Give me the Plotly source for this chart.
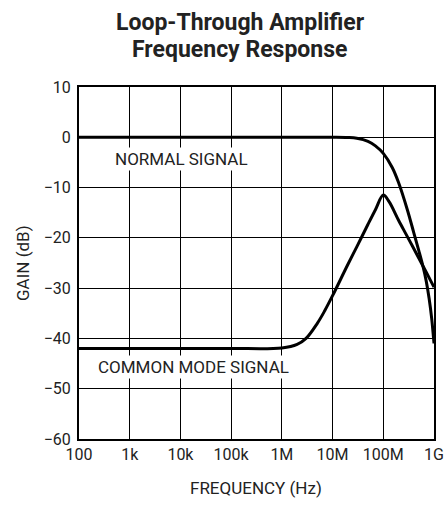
import plotly.graph_objects as go

# Data
normal_freq = [100, 1e3, 1e4, 1e5, 1e6, 1e7, 2e7, 3e7, 5e7, 7e7, 1e8, 1.5e8, 2e8,
               3e8, 4e8, 5e8, 6e8, 7e8, 8e8, 9e8, 1e9]
normal_gain = [0, 0, 0, 0, 0, 0, -0.05, -0.2, -0.8, -1.7, -3.2, -6, -9,
               -14.5, -19, -22.5, -25.5, -28.5, -32, -36, -41]

cm_freq = [100, 1e3, 1e4, 1e5, 1e6, 2e6, 3e6, 5e6, 7e6, 1e7, 2e7, 3e7, 5e7, 7e7,
           1e8, 1.3e8, 2e8, 3e8, 5e8, 7e8, 1e9]
cm_gain = [-42, -42, -42, -42, -41.9, -41.2, -40, -37, -34.5, -31.5, -25.3, -21.8,
           -17.3, -14.4, -11.5, -12.8, -16.5, -19.8, -24, -26.8, -29.8]

x_tickvals = [1e2, 1e3, 1e4, 1e5, 1e6, 1e7, 1e8, 1e9]
x_ticktext = ["100", "1k", "10k", "100k", "1M", "10M", "100M", "1G"]
y_tickvals = [10, 0, -10, -20, -30, -40, -50, -60]
y_ticktext = ["10", "0", "\u221210", "\u221220", "\u221230", "\u221240", "\u221250", "\u221260"]

FONT = "Roboto, sans-serif"
TXT = "#222"
W, H = 445, 507
# plot area in page pixels: x 79..434, y 87..439
L, T = 79, 87
R = W - 434
B = H - 439
PW, PH = W - L - R, H - T - B

fig = go.Figure()
fig.add_trace(go.Scatter(x=normal_freq, y=normal_gain, mode="lines",
                         line=dict(color="black", width=3, shape="spline"),
                         showlegend=False, hoverinfo="skip"))
fig.add_trace(go.Scatter(x=cm_freq, y=cm_gain, mode="lines",
                         line=dict(color="black", width=3, shape="spline"),
                         showlegend=False, hoverinfo="skip"))

fig.update_layout(
    width=W, height=H,
    margin=dict(l=L, r=R, t=T, b=B, autoexpand=False),
    paper_bgcolor="white", plot_bgcolor="white",
    font=dict(family=FONT, size=16, color=TXT),
    showlegend=False,
)
fig.update_xaxes(type="log", range=[2, 9], tickvals=x_tickvals, ticktext=x_ticktext,
                 showgrid=True, gridcolor="black", gridwidth=1,
                 showline=True, linecolor="black", linewidth=2, mirror=True,
                 ticks="", zeroline=False, automargin=False,
                 tickfont=dict(size=16))
fig.update_yaxes(range=[-60, 10], tickvals=y_tickvals, ticktext=y_ticktext,
                 showgrid=True, gridcolor="black", gridwidth=1,
                 showline=True, linecolor="black", linewidth=2, mirror=True,
                 ticks="", zeroline=False, automargin=False,
                 tickfont=dict(size=16), ticklabelstandoff=3)

def px_x(px):  # page pixel -> paper
    return (px - L) / PW

def px_y(py):
    return 1 - (py - T) / PH

fig.add_annotation(text="<b>Loop-Through Amplifier</b>", xref="paper", yref="paper",
                   x=px_x(240), y=px_y(22), xanchor="center", yanchor="middle",
                   showarrow=False, font=dict(size=23, color=TXT))
fig.add_annotation(text="<b>Frequency Response</b>", xref="paper", yref="paper",
                   x=px_x(239), y=px_y(49), xanchor="center", yanchor="middle",
                   showarrow=False, font=dict(size=23, color=TXT))

fig.add_annotation(text="FREQUENCY (Hz)", xref="paper", yref="paper",
                   x=px_x(256), y=px_y(488), xanchor="center", yanchor="middle",
                   showarrow=False, font=dict(size=17, color=TXT))
fig.add_annotation(text="GAIN (dB)", xref="paper", yref="paper", textangle=-90,
                   x=px_x(23), y=px_y(263), xanchor="center", yanchor="middle",
                   showarrow=False, font=dict(size=17, color=TXT))

fig.add_annotation(text="NORMAL SIGNAL", x=px_x(181) * 7 + 2, y=-4.4,
                   xref="x", yref="y", showarrow=False, bgcolor="white",
                   font=dict(size=17, color=TXT), borderpad=1)
fig.add_annotation(text="COMMON MODE SIGNAL", x=px_x(193) * 7 + 2, y=-45.7,
                   xref="x", yref="y", showarrow=False, bgcolor="white",
                   font=dict(size=17, color=TXT), borderpad=1)

fig.write_html("out.html", config={"displayModeBar": False},
               post_script="document.body.style.margin='0';"
                           "document.body.style.overflow='hidden';")
